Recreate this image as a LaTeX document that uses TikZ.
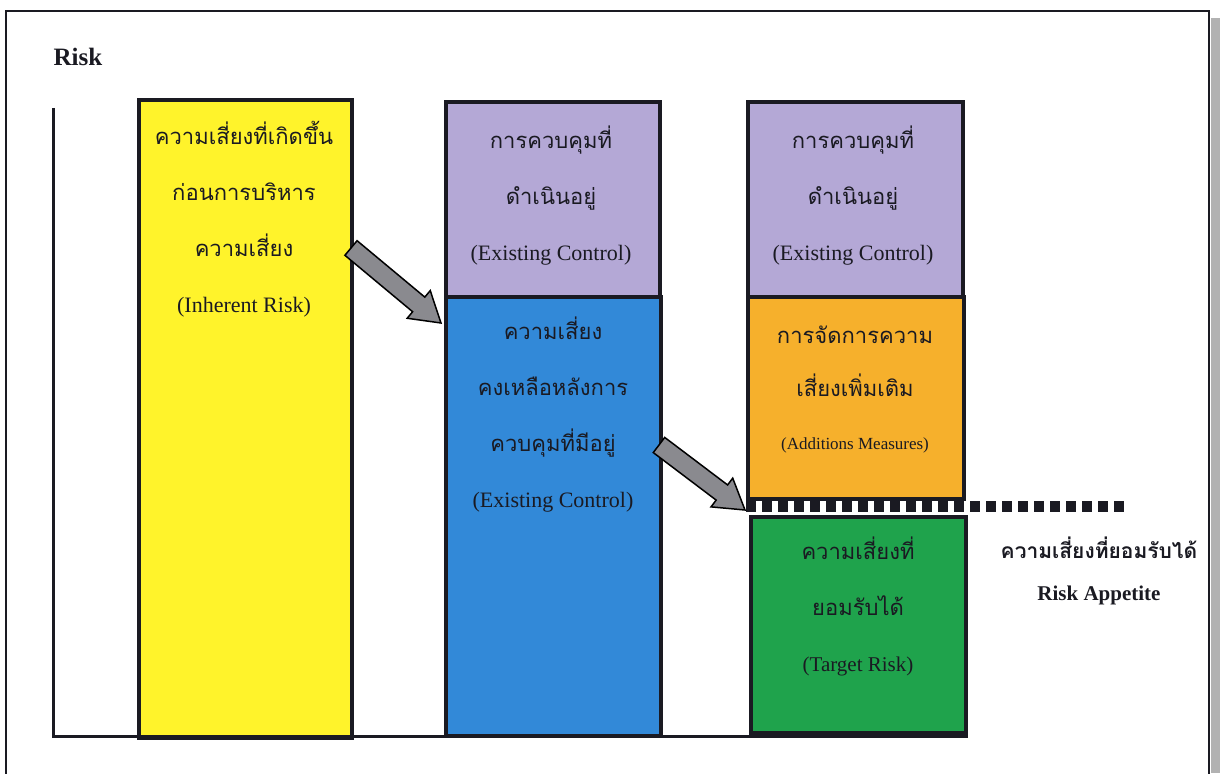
\documentclass[tikz,border=0pt]{standalone}
\usepackage{fontspec}
\setmainfont{Liberation Serif}
\newfontfamily\thai[Script=Thai]{Loma}
\usetikzlibrary{calc}
\definecolor{yel}{HTML}{FFF32B}
\definecolor{pur}{HTML}{B4A8D6}
\definecolor{blu}{HTML}{3289D8}
\definecolor{ora}{HTML}{F6B02C}
\definecolor{grn}{HTML}{1FA34C}
\definecolor{arr}{HTML}{8A8A8F}
\definecolor{ink}{HTML}{1A1A22}
\newcommand\blockarrow[2]{%
  \coordinate (#1h) at ($(#2)!29pt!(#1)$);
  \draw[blockarr] ($(#1)!9.5pt!90:(#2)$) -- ($(#1h)!9.5pt!-90:(#1)$) -- ($(#1h)!18pt!-90:(#1)$)
    -- (#2) -- ($(#1h)!18pt!90:(#1)$) -- ($(#1h)!9.5pt!90:(#1)$) -- ($(#1)!9.5pt!-90:(#2)$) -- cycle;}
\begin{document}
\begin{tikzpicture}[x=1pt,y=-1pt,
  box/.style={draw=ink, line width=4pt, anchor=north west, inner sep=0pt},
  blockarr/.style={draw=black, line width=1.5pt, fill=arr, line join=miter},
  lbl/.style={align=center, text=ink, inner sep=0pt},
  th/.style={font=\thai\fontsize{22}{56}\selectfont},
  axis/.style={draw=ink, line width=3pt}]
\useasboundingbox (0,0) rectangle (1222,773);
% frame and shadow
\fill[black!30] (1211,18) rectangle (1220,773);
\draw[ink, line width=2pt] (6,11) rectangle (1209,800);
% label Risk
\node[lbl, font=\bfseries\fontsize{25}{30}\selectfont] (risk) at (78,57) {Risk};
% boxes
\node[box, fill=yel, minimum width=213pt, minimum height=638pt] (inh) at (137,98) {};
\node[box, fill=pur, minimum width=214pt, minimum height=195pt] (ec1) at (444,100) {};
\node[box, fill=blu, minimum width=215pt, minimum height=439pt] (res) at (444,295) {};
\node[box, fill=pur, minimum width=215pt, minimum height=195pt] (ec2) at (746,100) {};
\node[box, fill=ora, minimum width=216pt, minimum height=202pt] (add) at (746,295) {};
\node[box, fill=grn, minimum width=215pt, minimum height=216pt] (tgt) at (749,515) {};
% axes
\coordinate (ytop) at (53,108);
\coordinate (orig) at (53,736);
\draw[axis] (ytop) -- (orig) -- (orig -| tgt.south east);
% risk appetite dashed line
\coordinate (dend) at (1124,506);
\draw[ink, line width=11pt, dash pattern=on 10pt off 6pt] (add.south west |- dend) -- (dend);
% texts
\node[lbl, th] (t1) at (244,219) {ความเสี่ยงที่เกิดขึ้น\\ก่อนการบริหาร\\ความเสี่ยง\\{\rmfamily\fontsize{22}{56}\selectfont (Inherent Risk)}};
\node[lbl, th] (t2) at (551,196) {การควบคุมที่\\ดำเนินอยู่\\{\rmfamily\fontsize{22}{56}\selectfont (Existing Control)}};
\node[lbl, th] (t3) at (553,415) {ความเสี่ยง\\คงเหลือหลังการ\\ควบคุมที่มีอยู่\\{\rmfamily\fontsize{22}{56}\selectfont (Existing Control)}};
\node[lbl, th] (t4) at (853,196) {การควบคุมที่\\ดำเนินอยู่\\{\rmfamily\fontsize{22}{56}\selectfont (Existing Control)}};
\node[lbl, font=\thai\fontsize{22}{53}\selectfont] (t5) at (855,390) {การจัดการความ\\เสี่ยงเพิ่มเติม\\{\rmfamily\fontsize{17}{53}\selectfont (Additions Measures)}};
\node[lbl, th] (t6) at (858,606) {ความเสี่ยงที่\\ยอมรับได้\\{\rmfamily\fontsize{21}{56}\selectfont (Target Risk)}};
\node[lbl, font=\thai\bfseries\fontsize{21}{42}\selectfont] (t7) at (1099,571) {ความเสี่ยงที่ยอมรับได้\\{\rmfamily\bfseries\fontsize{21}{42}\selectfont Risk Appetite}};
% arrows
\coordinate (a1) at (351,248);
\coordinate (b1) at (441,323);
\coordinate (a2) at (659,445);
\coordinate (b2) at (745,510);
\blockarrow{a1}{b1}
\blockarrow{a2}{b2}
\end{tikzpicture}
\end{document}
